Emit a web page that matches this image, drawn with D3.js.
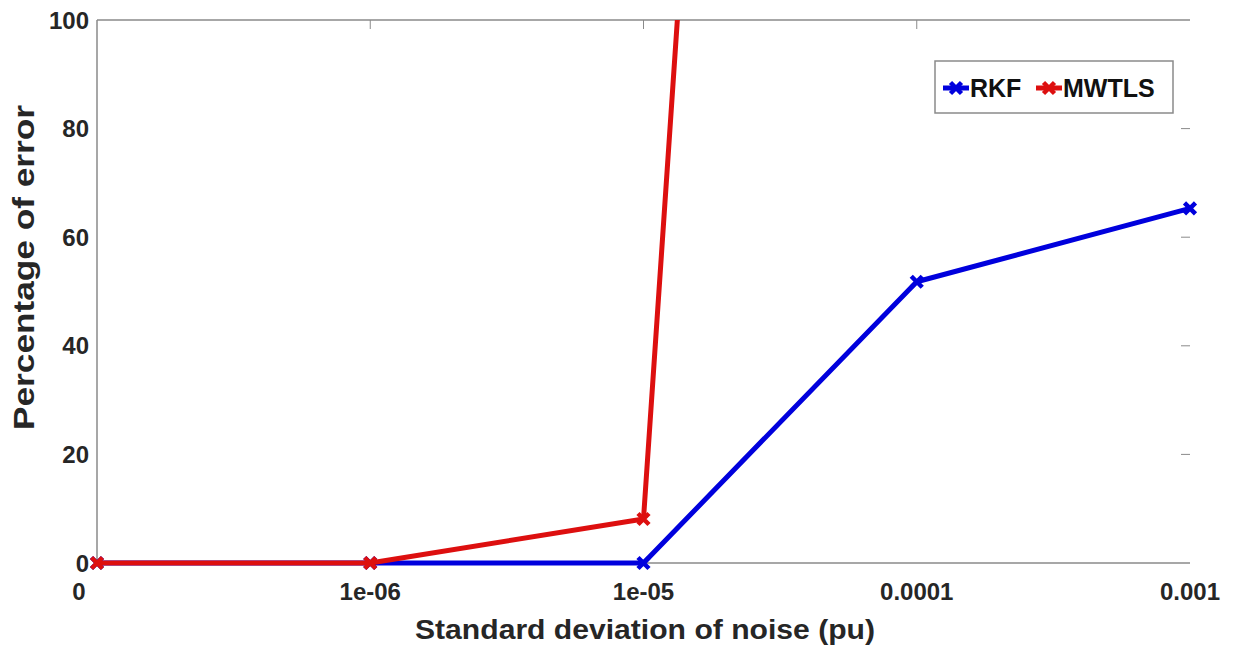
<!DOCTYPE html>
<html>
<head>
<meta charset="utf-8">
<script src="https://cdn.jsdelivr.net/npm/d3@7"></script>
<style>
  body { margin: 0; background: #fff; }
  text { font-family: "Liberation Sans", Arial, sans-serif; font-weight: bold; fill: #262626; }
</style>
</head>
<body>
<div id="chart"></div>
<script>
// data
const noiseLevels = ["0", "1e-06", "1e-05", "0.0001", "0.001"];
const rkf = [0, 0, 0, 51.8, 65.3];
const mwtls = [0, 0, 8.1, 750]; // last point runs off the top
const yTicks = [0, 20, 40, 60, 80, 100];

const W = 1240, H = 647;
const margin = { top: 20, right: 50, bottom: 84, left: 97 };
const width = W - margin.left - margin.right;
const height = H - margin.top - margin.bottom;

const svg = d3.select("#chart").append("svg")
  .attr("width", W).attr("height", H);

const g = svg.append("g")
  .attr("transform", `translate(${margin.left},${margin.top})`);

const x = d3.scalePoint().domain(noiseLevels).range([0, width]);
const y = d3.scaleLinear().domain([0, 100]).range([height, 0]);

g.append("clipPath").attr("id", "clip")
  .append("rect").attr("x", -10).attr("y", 0).attr("width", width + 20).attr("height", height + 10);

// axes frame (no right edge line, like the picture)
const axisColor = "#8a8a8a";
g.append("line").attr("x1", 0).attr("x2", width).attr("y1", 0).attr("y2", 0)
  .attr("stroke", axisColor).attr("stroke-width", 1.5);
g.append("line").attr("x1", 0).attr("x2", width).attr("y1", height).attr("y2", height)
  .attr("stroke", axisColor).attr("stroke-width", 1.5);
g.append("line").attr("x1", 0).attr("x2", 0).attr("y1", 0).attr("y2", height)
  .attr("stroke", axisColor).attr("stroke-width", 1.5);

// inner ticks
g.selectAll(".tickTop").data(noiseLevels.slice(1, -1)).join("line")
  .attr("x1", (d) => x(d)).attr("x2", (d) => x(d))
  .attr("y1", 0).attr("y2", 9)
  .attr("stroke", axisColor).attr("stroke-width", 1);
g.selectAll(".tickR").data(yTicks.slice(1, -1)).join("line")
  .attr("x1", width - 9).attr("x2", width)
  .attr("y1", (d) => y(d)).attr("y2", (d) => y(d))
  .attr("stroke", axisColor).attr("stroke-width", 1);

// tick labels
g.selectAll(".ylab").data(yTicks).join("text")
  .attr("x", -8).attr("y", (d) => y(d))
  .attr("dy", "0.36em")
  .attr("text-anchor", "end")
  .style("font-size", "24px")
  .text((d) => d);

g.selectAll(".xlab").data(noiseLevels).join("text")
  .attr("x", (d, i) => x(d) + (i === 0 ? -18 : 0))
  .attr("y", height + 37)
  .attr("text-anchor", "middle")
  .style("font-size", "24px")
  .text((d) => d);

// axis titles
svg.append("text")
  .attr("x", 415)
  .attr("y", 639)
  .attr("textLength", 460)
  .attr("lengthAdjust", "spacingAndGlyphs")
  .style("font-size", "28px")
  .text("Standard deviation of noise (pu)");

svg.append("text")
  .attr("transform", "translate(34,430) rotate(-90)")
  .attr("textLength", 325)
  .attr("lengthAdjust", "spacingAndGlyphs")
  .style("font-size", "29px")
  .text("Percentage of error");

// series
const series = [
  { name: "RKF", color: "#0000dd", values: rkf },
  { name: "MWTLS", color: "#dd0f0f", values: mwtls },
];

const line = d3.line()
  .x((d, i) => x(noiseLevels[i]))
  .y((d) => y(d));

const plot = g.append("g").attr("clip-path", "url(#clip)");

function cross(s) {
  return `M${-s},${-s}L${s},${s}M${-s},${s}L${s},${-s}`;
}

series.forEach((s) => {
  plot.append("path")
    .datum(s.values)
    .attr("fill", "none")
    .attr("stroke", s.color)
    .attr("stroke-width", 5)
    .attr("stroke-linejoin", "round")
    .attr("d", line);
  plot.selectAll(null)
    .data(s.values.map((v, i) => ({ v, i })).filter((d) => d.v <= 100))
    .join("path")
    .attr("transform", (d) => `translate(${x(noiseLevels[d.i])},${y(d.v)})`)
    .attr("d", cross(5.5))
    .attr("stroke", s.color)
    .attr("stroke-width", 4.5)
    .attr("fill", "none");
});

// legend
const leg = svg.append("g").attr("transform", "translate(935,61)");
leg.append("rect").attr("width", 238).attr("height", 52)
  .attr("fill", "#fff").attr("stroke", "#8a8a8a").attr("stroke-width", 1.5);

const legItems = [
  { name: "RKF", color: "#0000dd", x0: 8 },
  { name: "MWTLS", color: "#dd0f0f", x0: 101 },
];
legItems.forEach((d) => {
  const it = leg.append("g").attr("transform", `translate(${d.x0},27)`);
  it.append("line").attr("x1", 0).attr("x2", 26).attr("y1", 0).attr("y2", 0)
    .attr("stroke", d.color).attr("stroke-width", 5);
  it.append("path").attr("transform", "translate(13,0)")
    .attr("d", cross(5.5))
    .attr("stroke", d.color).attr("stroke-width", 4.5).attr("fill", "none");
  it.append("text").attr("x", 27).attr("dy", "0.36em")
    .style("font-size", "25px").style("fill", "#111").text(d.name);
});
</script>
</body>
</html>
